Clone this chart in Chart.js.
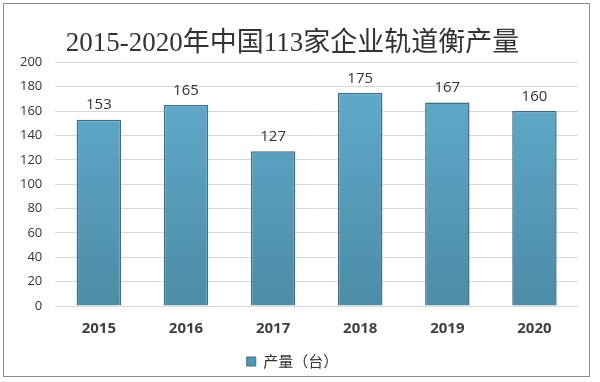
<!DOCTYPE html>
<html><head><meta charset="utf-8">
<script src="https://cdn.jsdelivr.net/npm/chart.js@4/dist/chart.umd.min.js"></script>
<style>
html,body{margin:0;padding:0;background:#fff;}
#wrap{position:absolute;left:3px;top:3px;width:587px;height:374px;border:1px solid #8c8c8c;box-sizing:border-box;}
#c{position:absolute;left:0;top:0;}
</style></head><body>
<div id="wrap"></div>
<canvas id="c" width="600" height="382"></canvas>
<script>
const titleText = "2015-2020年中国113家企业轨道衡产量";
const categories = ["2015","2016","2017","2018","2019","2020"];
const seriesName = "产量（台）";
const values = [153,165,127,175,167,160];
const yTicks = [0,20,40,60,80,100,120,140,160,180,200];

const labelPlugin = {
  id:'valueLabels',
  afterDatasetsDraw(chart){
    const ctx = chart.ctx;
    const meta = chart.getDatasetMeta(0);
    ctx.save();
    ctx.font = '15px "Open Sans", sans-serif';
    ctx.fillStyle = '#333';
    ctx.textAlign = 'center';
    ctx.textBaseline = 'bottom';
    meta.data.forEach((bar,i)=>{
      ctx.fillText(String(values[i]), bar.x, bar.y - 7);
    });
    ctx.restore();
  }
};

new Chart(document.getElementById('c'),{
  type:'bar',
  data:{labels:categories,datasets:[{
    label:seriesName,
    data:values,
    backgroundColor(c){
      const ca=c.chart.chartArea;
      if(!ca) return '#56a0c2';
      const g=c.chart.ctx.createLinearGradient(0,ca.top,0,ca.bottom);
      g.addColorStop(0,'#62adcf');
      g.addColorStop(1,'#4c8ca6');
      return g;
    },
    borderColor:'#3e6e84',
    borderWidth:1.5,
    categoryPercentage:1,
    barPercentage:0.51
  }]},
  plugins:[labelPlugin],
  options:{
    responsive:false,
    animation:false,
    devicePixelRatio:1,
    layout:{padding:{left:7,right:22,top:8,bottom:3}},
    plugins:{
      title:{display:true,text:titleText,color:'#333',
        font:{family:'"Liberation Serif","Noto Sans CJK SC",serif',size:27,weight:'normal'},
        padding:{top:20,bottom:2}},
      legend:{display:true,position:'bottom',
        labels:{color:'#333',font:{family:'"Noto Sans CJK SC",sans-serif',size:15},
          boxWidth:9,boxHeight:9,padding:10,
          generateLabels(chart){return [{text:seriesName,fillStyle:'#4f98b8',strokeStyle:'#3e6e84',lineWidth:1,fontColor:'#333'}];}}},
      tooltip:{enabled:false}
    },
    scales:{
      x:{grid:{display:false},border:{display:false},
        ticks:{color:'#404040',font:{family:'"Open Sans",sans-serif',size:15,weight:'bold'},padding:6}},
      y:{min:0,max:200,
        afterBuildTicks(s){s.ticks=yTicks.map(v=>({value:v}));},
        grid:{color:'#d9d9d9',lineWidth:1,drawTicks:false},
        border:{display:false},
        ticks:{color:'#333',font:{family:'"Open Sans",sans-serif',size:13},padding:13}}
    }
  }
});
</script>
</body></html>
